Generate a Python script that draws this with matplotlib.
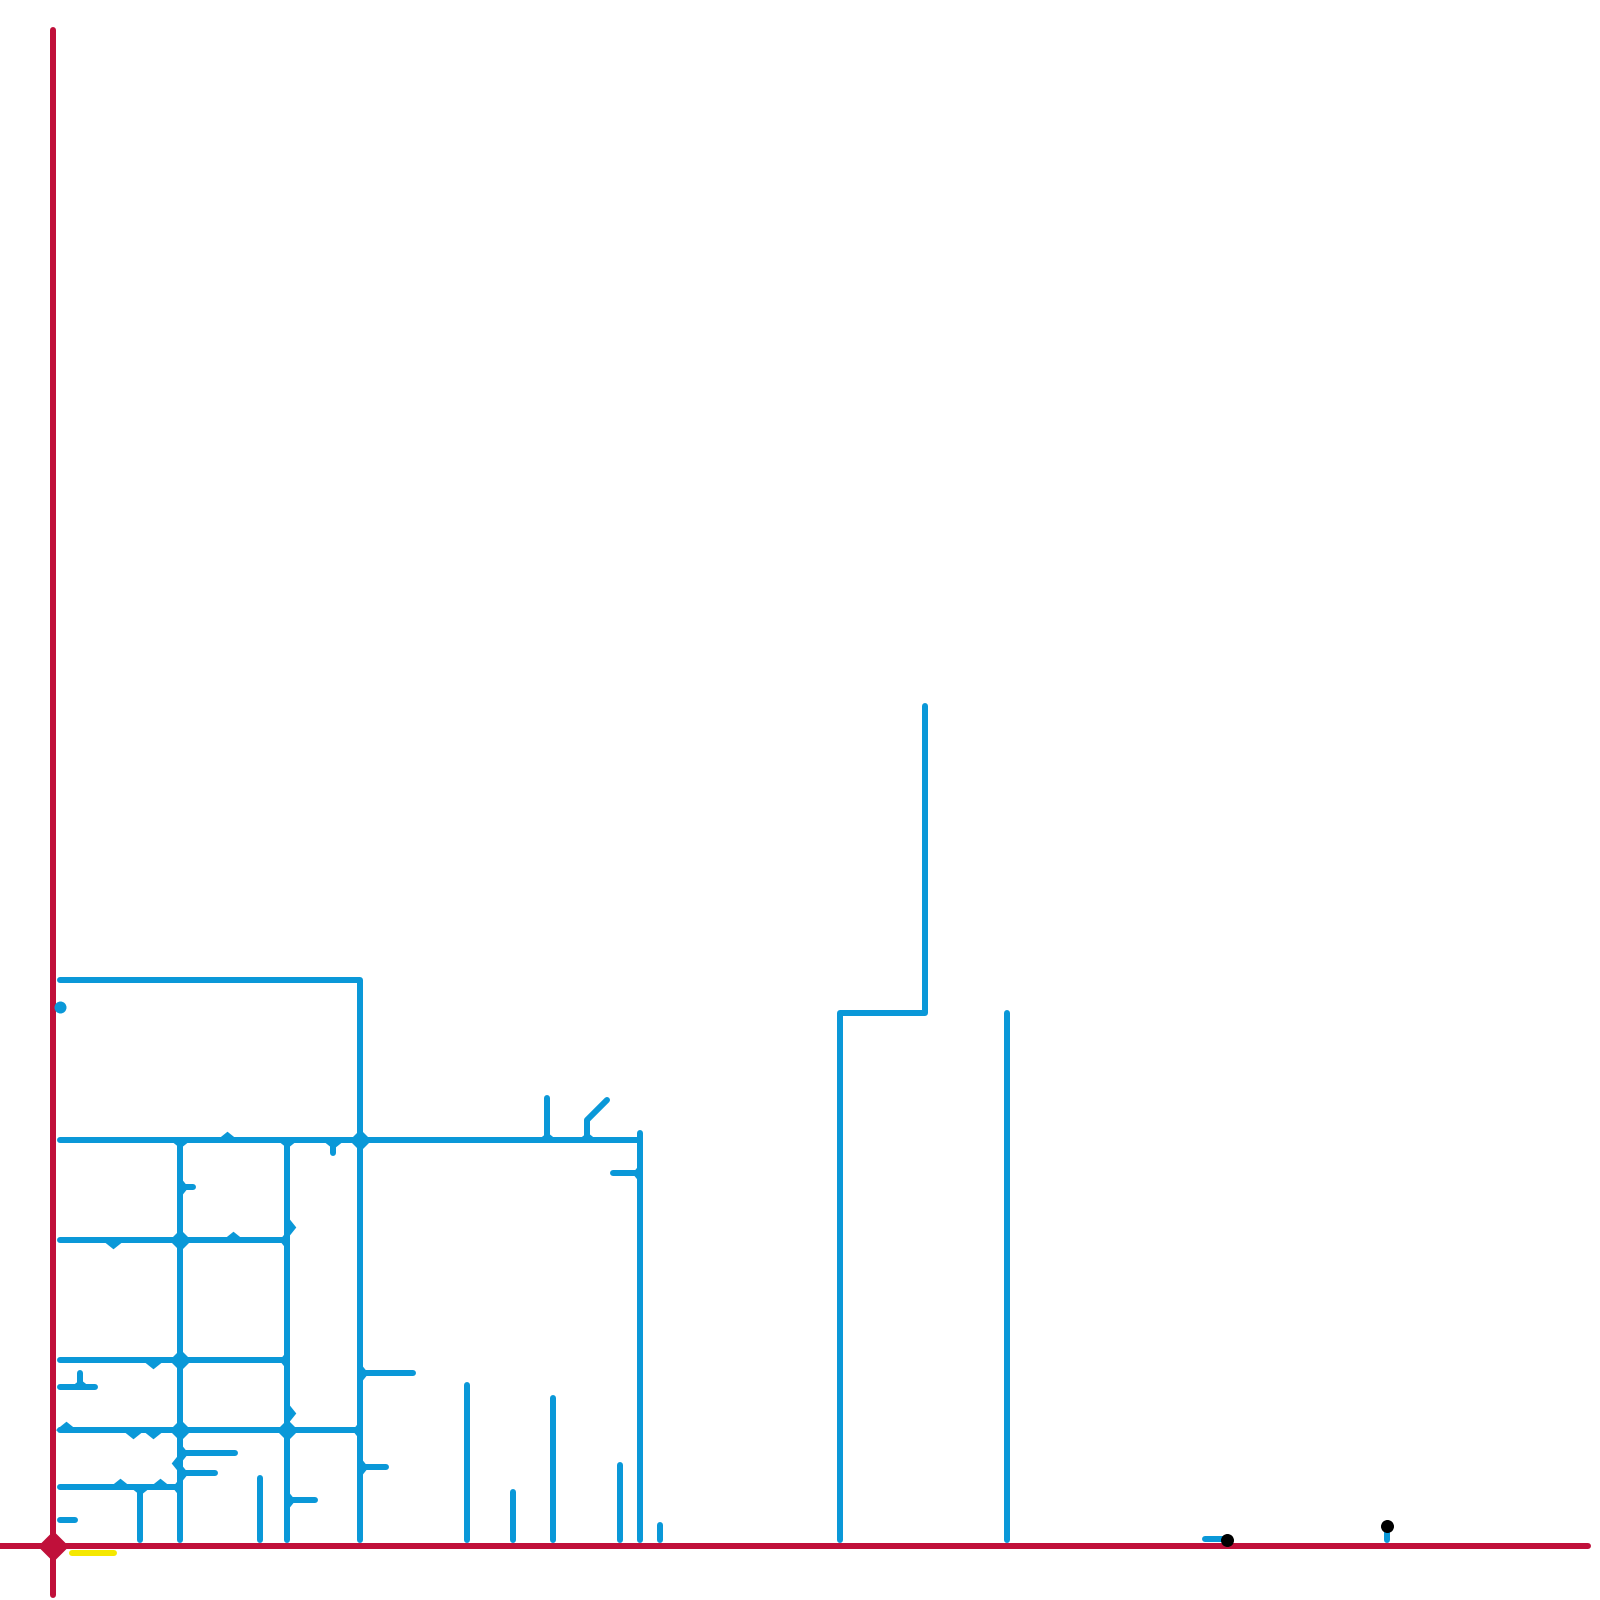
import matplotlib
matplotlib.use("Agg")
import matplotlib.pyplot as plt
from matplotlib.path import Path

# ---- data (canvas units, y grows downward) ----
red_lines = [
    ([53, 53], [30, 1595]),
    ([0, 1588], [1546, 1546]),
]
yellow_lines = [([72, 114], [1553, 1553])]
red_hub_x = [53]
red_hub_y = [1546]

blue_lines = [
    ([60, 360, 360], [980, 980, 1540]),
    ([60, 640], [1140, 1140]),
    ([640, 640], [1133, 1540]),
    ([180, 180], [1140, 1540]),
    ([287, 287], [1140, 1540]),
    ([60, 287], [1240, 1240]),
    ([60, 287], [1360, 1360]),
    ([60, 360], [1430, 1430]),
    ([60, 180], [1487, 1487]),
    ([140, 140], [1487, 1540]),
    ([60, 95], [1387, 1387]),
    ([80, 80], [1373, 1387]),
    ([60, 75], [1520, 1520]),
    ([180, 193], [1187, 1187]),
    ([180, 235], [1453, 1453]),
    ([180, 215], [1473, 1473]),
    ([287, 315], [1500, 1500]),
    ([360, 413], [1373, 1373]),
    ([360, 386], [1467, 1467]),
    ([333, 333], [1140, 1153]),
    ([547, 547], [1098, 1140]),
    ([587, 587, 607], [1140, 1120, 1100]),
    ([613, 640], [1173, 1173]),
    ([260, 260], [1478, 1540]),
    ([467, 467], [1385, 1540]),
    ([513, 513], [1492, 1540]),
    ([553, 553], [1398, 1540]),
    ([620, 620], [1465, 1540]),
    ([660, 660], [1525, 1540]),
    ([840, 840, 925, 925], [1540, 1013, 1013, 706]),
    ([1007, 1007], [1013, 1540]),
    ([1205, 1227], [1539, 1539]),
    ([1387, 1387], [1526, 1540]),
]

# station bumps on one side of a line: x, y, direction
bump_x = [227, 113, 233, 153, 133, 153, 66, 120, 160, 287, 287, 333, 180]
bump_y = [1140, 1240, 1240, 1360, 1430, 1430, 1430, 1487, 1487, 1227, 1413, 1140, 1463]
bump_dir = ['up', 'down', 'up', 'down', 'down', 'down', 'up', 'up', 'up',
            'right', 'right', 'down', 'left']

# crossings (small diamonds)
cross_x = [360, 180, 180, 180, 287]
cross_y = [1140, 1240, 1360, 1430, 1430]

# T-junction fillets: x, y, direction of the branch
tee_x = [180, 287, 287, 287, 360, 180, 140, 180, 360, 360, 287, 180, 180, 640, 547, 587, 80]
tee_y = [1140, 1140, 1240, 1360, 1430, 1487, 1487, 1187, 1373, 1467, 1500, 1453, 1473,
         1173, 1140, 1140, 1387]
tee_dir = ['down', 'down', 'left', 'left', 'left', 'left', 'down', 'right', 'right',
           'right', 'right', 'right', 'right', 'left', 'up', 'up', 'up']

black_dots_x = [1227, 1387]
black_dots_y = [1540, 1526]
blue_dots_x = [60]
blue_dots_y = [1007]

BLUE = "#0a98d8"
RED = "#c0103a"
YELLOW = "#f5e800"
PX = 0.72  # points per pixel at dpi 100

diamond = Path([(0, 1), (1, 0), (0, -1), (-1, 0), (0, 1)], closed=True)
tri = {
    'up': Path([(-1, 0), (1, 0), (0, 0.8), (-1, 0)], closed=True),
    'down': Path([(-1, 0), (1, 0), (0, -0.8), (-1, 0)], closed=True),
    'right': Path([(0, -1), (0, 1), (0.8, 0), (0, -1)], closed=True),
    'left': Path([(0, -1), (0, 1), (-0.8, 0), (0, -1)], closed=True),
}

fig = plt.figure(figsize=(16, 16), dpi=100)
ax = fig.add_axes([0, 0, 1, 1])
ax.set_xlim(0, 1600)
ax.set_ylim(1600, 0)
ax.axis("off")

for xs, ys in blue_lines:
    ax.plot(xs, ys, color=BLUE, lw=6 * PX, solid_capstyle="round",
            solid_joinstyle="round", zorder=2)

for x, y, d in zip(bump_x, bump_y, bump_dir):
    ax.plot([x], [y], marker=tri[d], ms=22 * PX, color=BLUE, mew=0, zorder=3)

for x, y, d in zip(tee_x, tee_y, tee_dir):
    ax.plot([x], [y], marker=tri[d], ms=20 * PX, color=BLUE, mew=0, zorder=3)

ax.plot(cross_x, cross_y, ls="none", marker=diamond, ms=22 * PX,
        color=BLUE, mew=0, zorder=3)

for xs, ys in red_lines:
    ax.plot(xs, ys, color=RED, lw=6 * PX, solid_capstyle="round", zorder=4)
for xs, ys in yellow_lines:
    ax.plot(xs, ys, color=YELLOW, lw=6 * PX, solid_capstyle="round", zorder=4)
ax.plot(red_hub_x, red_hub_y, ls="none", marker=diamond, ms=31 * PX, color=RED,
        mew=0, zorder=5)

ax.plot(blue_dots_x, blue_dots_y, ls="none", marker="o", ms=12 * PX, color=BLUE,
        mew=0, zorder=5)
ax.plot(black_dots_x, black_dots_y, ls="none", marker="o", ms=13 * PX, color="black",
        mew=0, zorder=6)

fig.savefig("out.png", dpi=100, facecolor="white")
